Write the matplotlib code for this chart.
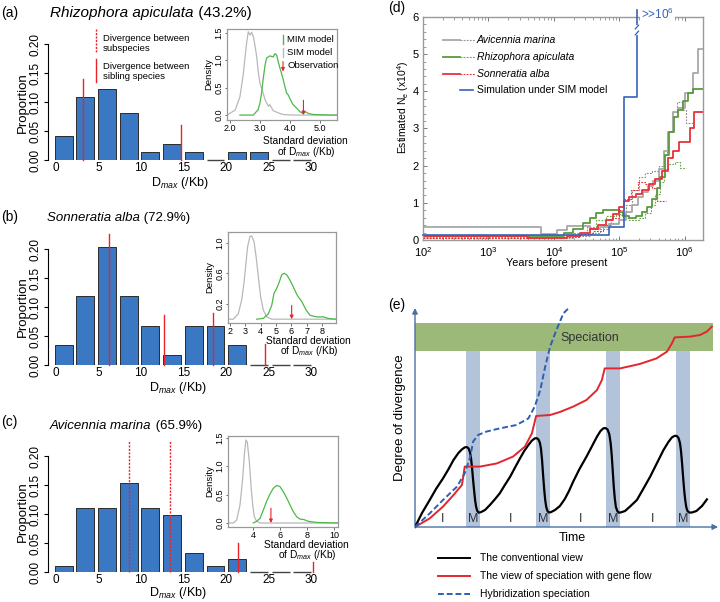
import matplotlib.pyplot as plt
import numpy as np
from matplotlib.patches import Rectangle, FancyArrowPatch
from matplotlib.lines import Line2D
from matplotlib.text import Annotation
from matplotlib.ticker import MultipleLocator

plt.rcParams['font.family'] = ['Liberation Sans', 'DejaVu Sans']
plt.rcParams['mathtext.fontset'] = 'custom'
plt.rcParams['mathtext.rm'] = 'Liberation Sans'
plt.rcParams['mathtext.it'] = 'Liberation Sans:italic'
plt.rcParams['mathtext.bf'] = 'Liberation Sans:bold'

# ---------------------------------------------------------------------------
# Data
# ---------------------------------------------------------------------------
n_bins = 12
prop_a = [0.041, 0.109, 0.122, 0.081, 0.0135, 0.027, 0.0135, 0.0, 0.0135, 0.0135, 0.0, 0.0]
prop_b = [0.034, 0.119, 0.203, 0.119, 0.068, 0.017, 0.068, 0.068, 0.034, 0.0, 0.0, 0.0]
prop_c = [0.011, 0.110, 0.110, 0.154, 0.110, 0.099, 0.033, 0.011, 0.022, 0.0, 0.0, 0.0]

# observed divergences (x, top, dotted?)
obs_a = [(3.15, 0.14, False), (14.7, 0.06, False)]
obs_b = [(6.2, 0.226, False), (12.65, 0.086, False), (18.5, 0.09, False), (24.55, 0.036, False)]
obs_c = [(8.55, 0.228, True), (13.4, 0.228, True), (21.4, 0.05, False), (30.2, 0.017, False)]

# inset densities
sim_a_x = [1.9, 2.17, 2.33, 2.44, 2.5, 2.56, 2.61, 2.67, 2.72, 2.78, 2.83, 2.89, 2.94, 3.0, 3.09,
           3.17, 3.28, 3.33, 3.44, 3.61, 3.78, 4.1, 5.57]
sim_a_y = [0.0, 0.09, 0.33, 0.73, 1.04, 1.34, 1.52, 1.46, 1.51, 1.43, 1.28, 1.07, 0.8, 0.58, 0.43,
           0.28, 0.16, 0.19, 0.08, 0.04, 0.01, 0.0, 0.0]
mim_a_x = [2.33, 2.78, 2.94, 3.0, 3.06, 3.11, 3.17, 3.22, 3.33, 3.44, 3.5, 3.56, 3.61, 3.67, 3.72,
           3.78, 3.83, 3.89, 3.94, 4.0, 4.09, 4.2, 4.33, 4.44, 4.53, 4.61, 4.78, 5.33, 5.57]
mim_a_y = [0.0, 0.0, 0.1, 0.22, 0.43, 0.67, 0.91, 1.04, 1.08, 1.06, 1.12, 1.09, 0.97, 0.85, 0.76,
           0.64, 0.52, 0.40, 0.37, 0.30, 0.20, 0.14, 0.06, 0.03, 0.06, 0.03, 0.01, 0.0, 0.0]
sim_b_x = [1.87, 2.22, 2.54, 2.76, 2.91, 3.04, 3.15, 3.3, 3.41, 3.57, 3.7, 3.85, 4.0, 4.17, 4.39, 4.72, 8.9]
sim_b_y = [0.0, 0.0, 0.07, 0.25, 0.47, 0.73, 0.95, 1.08, 1.09, 1.01, 0.82, 0.55, 0.29, 0.12, 0.03, 0.0, 0.0]
mim_b_x = [3.74, 4.17, 4.5, 4.72, 4.87, 5.04, 5.22, 5.37, 5.52, 5.7, 5.91, 6.13, 6.39, 6.68, 6.96,
           7.22, 7.65, 8.09, 8.4, 8.9]
mim_b_y = [0.0, 0.01, 0.07, 0.18, 0.34, 0.40, 0.49, 0.58, 0.60, 0.58, 0.51, 0.42, 0.31, 0.23, 0.12,
           0.05, 0.03, 0.03, 0.01, 0.0]
sim_c_x = [2.15, 2.54, 2.79, 3.04, 3.24, 3.36, 3.48, 3.58, 3.73, 3.85, 3.98, 4.1, 4.27, 4.52, 10.3]
sim_c_y = [0.0, 0.0, 0.05, 0.32, 0.79, 1.2, 1.46, 1.42, 1.08, 0.67, 0.32, 0.11, 0.03, 0.0, 0.0]
mim_c_x = [4.02, 4.27, 4.52, 4.77, 5.01, 5.26, 5.5, 5.76, 6.0, 6.25, 6.5, 6.74, 6.99, 7.24, 7.48,
           7.78, 8.1, 8.72, 10.3]
mim_c_y = [0.0, 0.03, 0.08, 0.23, 0.38, 0.51, 0.61, 0.66, 0.64, 0.55, 0.44, 0.32, 0.20, 0.11, 0.07,
           0.06, 0.03, 0.01, 0.0]
obs_sd = {'a': (4.45, 0.27), 'b': (6.02, 0.18), 'c': (5.33, 0.26)}

# (d) PSMC-like Ne histories: log10(years) breakpoints and Ne (x10^4)
am_lx = [2.0, 3.81, 4.05, 4.2, 4.55, 4.7, 4.85, 5.0, 5.1, 5.2, 5.28, 5.36, 5.44, 5.52, 5.6, 5.68,
         5.75, 5.82, 5.9, 6.0, 6.13, 6.2]
am_ne = [0.36, 0.15, 0.28, 0.38, 0.30, 0.36, 0.42, 0.55, 0.75, 0.95, 1.15, 1.3, 1.45, 1.6, 1.9, 2.4,
         2.9, 3.45, 3.55, 3.95, 4.5, 5.15]
am2_lx = [2.0, 4.0, 4.3, 4.55, 4.7, 4.85, 5.0, 5.1, 5.2, 5.3, 5.4, 5.5, 5.6, 5.68, 5.73, 5.8, 5.88,
          5.96, 6.02]
am2_ne = [0.08, 0.05, 0.1, 0.2, 0.3, 0.45, 0.7, 0.95, 1.35, 1.7, 1.8, 1.85, 2.0, 2.3, 2.9, 3.45, 3.7,
          3.5, 3.15]
ra_lx = [2.0, 3.85, 4.15, 4.3, 4.45, 4.55, 4.65, 4.75, 5.0, 5.05, 5.15, 5.25, 5.35, 5.42, 5.5, 5.57,
         5.63, 5.7, 5.76, 5.83, 5.9, 5.97, 6.05, 6.12]
ra_ne = [0.1, 0.12, 0.18, 0.3, 0.45, 0.6, 0.72, 0.8, 0.75, 0.65, 0.6, 0.65, 0.75, 0.9, 1.1, 1.4,
         1.7, 2.3, 2.9, 3.3, 3.5, 3.75, 3.95, 4.05]
ra2_lx = [2.0, 4.0, 4.3, 4.5, 4.65, 4.8, 4.95, 5.05, 5.15, 5.3, 5.4, 5.48, 5.55, 5.62, 5.68, 5.75,
          5.85, 5.93]
ra2_ne = [0.05, 0.08, 0.2, 0.35, 0.55, 0.65, 0.68, 0.6, 0.55, 0.6, 0.72, 0.95, 1.25, 1.55, 1.9,
          2.05, 2.1, 1.95]
sa_lx = [2.0, 3.6, 4.2, 4.4, 4.55, 4.68, 4.8, 4.9, 5.0, 5.08, 5.15, 5.25, 5.35, 5.45, 5.55, 5.65,
         5.75, 5.82, 5.92, 6.08, 6.15]
sa_ne = [0.12, 0.05, 0.1, 0.2, 0.3, 0.4, 0.55, 0.7, 0.9, 1.05, 1.15, 1.25, 1.35, 1.5, 1.65, 1.85,
         2.2, 2.4, 2.65, 3.0, 3.45]
sa2_lx = [2.0, 4.0, 4.4, 4.6, 4.75, 4.88, 5.0, 5.08, 5.18, 5.28, 5.4, 5.5, 5.58]
sa2_ne = [0.05, 0.08, 0.15, 0.25, 0.4, 0.6, 0.8, 1.1, 1.35, 1.55, 1.5, 1.4, 1.05]
sim_lx = [2.0, 4.85, 5.08, 5.27]
sim_ne = [0.13, 0.35, 3.85, 6.18]

# (e) schematic curves (time in I+M cycles, divergence in arbitrary units)
conv_t = [0, 0.1, 0.21, 0.3, 0.4, 0.48, 0.55, 0.62, 0.67, 0.71, 0.74, 0.765, 0.785, 0.8, 0.815,
          0.83, 0.845, 0.86, 0.875, 0.89, 0.91, 0.94,
          1.0, 1.07, 1.14, 1.21, 1.28, 1.36, 1.43, 1.5, 1.56, 1.62, 1.67, 1.71, 1.74, 1.765, 1.785,
          1.8, 1.815, 1.83, 1.845, 1.86, 1.875, 1.89, 1.91, 1.94,
          2.0, 2.07, 2.14, 2.2, 2.26, 2.35, 2.45, 2.53, 2.6, 2.65, 2.69, 2.72, 2.75, 2.775, 2.795,
          2.81, 2.825, 2.84, 2.855, 2.87, 2.89, 2.91, 2.94,
          3.0, 3.08, 3.17, 3.26, 3.36, 3.45, 3.55, 3.62, 3.67, 3.71, 3.74, 3.765, 3.785, 3.8, 3.815,
          3.83, 3.845, 3.86, 3.875, 3.89, 3.91, 3.93, 3.96, 4.02, 4.1, 4.17]
conv_d = [0, 0.7, 1.35, 1.9, 2.43, 2.9, 3.35, 3.7, 3.88, 3.98, 4.0, 3.93, 3.75, 3.45, 2.95,
          2.35, 1.8, 1.3, 0.98, 0.8, 0.72, 0.74,
          0.85, 1.1, 1.38, 1.68, 2.08, 2.52, 2.98, 3.43, 3.8, 4.1, 4.32, 4.43, 4.44, 4.37, 4.2,
          3.9, 3.35, 2.6, 1.9, 1.35, 1.0, 0.82, 0.73, 0.74,
          0.85, 1.05, 1.4, 1.8, 2.27, 2.9, 3.52, 4.05, 4.52, 4.8, 4.93, 4.95, 4.88, 4.65, 4.2,
          3.6, 2.8, 2.0, 1.4, 1.0, 0.8, 0.72, 0.73,
          0.8, 1.05, 1.35, 1.9, 2.52, 3.15, 3.85, 4.25, 4.48, 4.56, 4.55, 4.45, 4.2, 3.8, 3.2,
          2.5, 1.85, 1.35, 1.0, 0.82, 0.74, 0.72, 0.73, 0.8, 1.05, 1.38]
flow_t = [0, 0.21, 0.4, 0.55, 0.67, 0.69, 0.71, 0.93, 1.17, 1.4, 1.57, 1.67, 1.73, 1.93, 2.07, 2.26,
          2.45, 2.6, 2.67, 2.71, 2.93, 3.21, 3.45, 3.6, 3.67, 3.71, 3.93, 4.07, 4.17, 4.24]
flow_d = [0, 0.43, 1.02, 1.6, 2.1, 2.52, 3.02, 3.02, 3.18, 3.52, 4.02, 4.68, 5.55, 5.6, 5.75, 6.02,
          6.35, 6.85, 7.35, 7.93, 7.93, 8.15, 8.43, 8.77, 9.18, 9.48, 9.52, 9.6, 9.77, 10.02]
hyb_t = [0, 0.21, 0.4, 0.6, 0.71, 0.79, 0.83, 0.9, 1.02, 1.21, 1.45, 1.62, 1.71, 1.79, 1.86, 1.93,
         2.02, 2.12, 2.21]
hyb_d = [0, 0.68, 1.35, 2.02, 2.68, 3.52, 4.27, 4.6, 4.77, 4.93, 5.1, 5.43, 6.02, 6.85, 8.02, 9.02,
         9.85, 10.68, 11.0]

W, H = 720, 602
fig = plt.figure(figsize=(W / 100, H / 100), dpi=100)


def px_axes(left, top, right, bottom):
    return fig.add_axes([left / W, 1 - bottom / H, (right - left) / W, (bottom - top) / H])


def fx(px):
    return px / W


def fy(py):
    return 1 - py / H


def ftext(px, py, s, **kw):
    return fig.text(fx(px), fy(py), s, **kw)


def fline(xs, ys, **kw):
    fig.add_artist(Line2D([fx(v) for v in xs], [fy(v) for v in ys], **kw))


BAR = '#3a78c4'
RED = '#e8232a'
GREEN = '#4db848'
GREY = '#b8b8b8'
DMAX = r'D$_{\mathit{max}}$ (/Kb)'

centers = 0.9 + 2.55 * np.arange(n_bins)
BAR_W = 2.1


def hist_panel(top, bottom, props, obs):
    ax = px_axes(48, top, 318, bottom)
    ax.bar(centers, props, width=BAR_W, color=BAR, edgecolor='#2b2b2b', linewidth=0.7)
    # empty bins are drawn as a flat dark line on the baseline
    for c, p in zip(centers, props):
        if p == 0:
            ax.plot([c - BAR_W / 2, c + BAR_W / 2], [0, 0], color='#444444', lw=1.0,
                    clip_on=False, solid_capstyle='butt')
    for x, ytop, dotted in obs:
        ax.plot([x, x], [0, ytop], color=RED, lw=1.0, ls=(0, (1.5, 1)) if dotted else '-',
                clip_on=False, zorder=3)
    ax.set_xlim(-0.94, 30.8)
    ax.set_ylim(0, (bottom - top) / 580)
    for s in ['top', 'right', 'bottom']:
        ax.spines[s].set_visible(False)
    ax.spines['left'].set_bounds(0, 0.2)
    ax.spines['left'].set_linewidth(0.8)
    ax.set_yticks([0, 0.05, 0.10, 0.15, 0.20])
    ax.set_yticklabels(['0.00', '0.05', '0.10', '0.15', '0.20'], rotation=90, va='center')
    ax.set_xticks([0, 5, 10, 15, 20, 25, 30])
    ax.tick_params(axis='y', length=3, width=0.8, labelsize=8.5, pad=1.5)
    ax.tick_params(axis='x', length=0, labelsize=8.5, pad=1.5)
    ax.patch.set_alpha(0)
    return ax


def inset_panel(left, top, right, bottom, xlim, ylim, xticks, xlabels, yticks, ylabels,
                sx, sy, mx, my, obs):
    ax = px_axes(left, top, right, bottom)
    ax.plot(sx, sy, color=GREY, lw=0.9)
    ax.plot(mx, my, color=GREEN, lw=0.9)
    ax.annotate('', xy=(obs[0], 0.0), xytext=(obs[0], obs[1]),
                arrowprops=dict(arrowstyle='-|>', color=RED, lw=0.8, mutation_scale=5,
                                shrinkA=0, shrinkB=0))
    ax.set_xlim(*xlim)
    ax.set_ylim(*ylim)
    ax.set_xticks(xticks)
    ax.set_xticklabels(xlabels)
    ax.set_yticks(yticks)
    ax.set_yticklabels(ylabels, rotation=90, va='center')
    ax.tick_params(labelsize=6.5, length=1.8, width=0.6, pad=0.8, color='#555555')
    for s in ax.spines.values():
        s.set_color('#999999')
        s.set_linewidth(0.9)
    ax.set_ylabel('Density', fontsize=6.8, labelpad=1)
    return ax


def inset_xlabel(cx, py):
    ftext(cx, py, 'Standard deviation', fontsize=7.3, ha='center', va='center')
    ftext(cx + 1, py + 10.5, 'of ' + DMAX, fontsize=7.3, ha='center', va='center')


# ---------------------------------------------------------------------------
# (a)
# ---------------------------------------------------------------------------
ax_a = hist_panel(30, 160, prop_a, obs_a)
ftext(1, 13, '(a)', fontsize=10, va='center')
ftext(23, 103, 'Proportion', fontsize=9.5, rotation=90, ha='center', va='center')
ftext(180, 183, DMAX, fontsize=9, ha='center', va='center')
fline([96, 96], [29, 53], color=RED, lw=1.0, ls=(0, (1.5, 1)))
fline([96, 96], [59, 82], color=RED, lw=1.0)
ftext(103, 43.5, 'Divergence between\nsubspecies', fontsize=6.8, va='center', linespacing=1.15)
ftext(103, 71.5, 'Divergence between\nsibling species', fontsize=6.8, va='center', linespacing=1.15)

ax_ai = inset_panel(227, 29, 337, 120, (1.9, 5.57), (-0.09, 1.57),
                    [2, 3, 4, 5], ['2.0', '3.0', '4.0', '5.0'],
                    [0, 0.5, 1.0, 1.5], ['0.0', '0.5', '1.0', '1.5'],
                    sim_a_x, sim_a_y, mim_a_x, mim_a_y, obs_sd['a'])
fline([283, 283], [35, 43.5], color=GREEN, lw=1.0)
fline([283, 283], [48, 56.5], color=GREY, lw=1.0)
fig.add_artist(FancyArrowPatch(
    (fx(283), fy(61.5)), (fx(283), fy(71.5)), transform=fig.transFigure,
    arrowstyle='-|>', color=RED, lw=0.8, mutation_scale=5, shrinkA=0, shrinkB=0))
ftext(287, 39, 'MIM model', fontsize=6.8, va='center')
ftext(287, 52.5, 'SIM model', fontsize=6.8, va='center')
ftext(287, 66, 'Observation', fontsize=6.8, va='center')
inset_xlabel(305, 141)

# ---------------------------------------------------------------------------
# (b)
# ---------------------------------------------------------------------------
ax_b = hist_panel(235, 365, prop_b, obs_b)
ftext(1, 217, '(b)', fontsize=10, va='center')
ftext(23, 307, 'Proportion', fontsize=9.5, rotation=90, ha='center', va='center')
ftext(178, 388, DMAX, fontsize=9, ha='center', va='center')
ax_bi = inset_panel(228, 232, 336, 323, (1.87, 8.91), (-0.05, 1.14),
                    [2, 3, 4, 5, 6, 7, 8], ['2', '3', '4', '5', '6', '7', '8'],
                    [0.2, 0.6, 1.0], ['0.2', '0.6', '1.0'],
                    sim_b_x, sim_b_y, mim_b_x, mim_b_y, obs_sd['b'])
inset_xlabel(308, 341)

# ---------------------------------------------------------------------------
# (c)
# ---------------------------------------------------------------------------
ax_c = hist_panel(442, 572, prop_c, obs_c)
ftext(1, 422, '(c)', fontsize=10, va='center')
ftext(23, 512, 'Proportion', fontsize=9.5, rotation=90, ha='center', va='center')
ftext(178, 593, DMAX, fontsize=9, ha='center', va='center')
ax_ci = inset_panel(228, 436, 338, 527, (2.15, 10.3), (-0.07, 1.53),
                    [4, 6, 8, 10], ['4', '6', '8', '10'],
                    [0, 0.5, 1.0, 1.5], ['0.0', '0.5', '1.0', '1.5'],
                    sim_c_x, sim_c_y, mim_c_x, mim_c_y, obs_sd['c'])
inset_xlabel(306, 545)

# species titles (italic name + upright percentage)
for px, py, name, pct, size in [(50, 13, 'Rhizophora apiculata', '(43.2%)', 11),
                                (47, 218, 'Sonneratia alba', '(72.9%)', 9.5),
                                (50, 426, 'Avicennia marina', '(65.9%)', 9.5)]:
    t = ftext(px, py, name, fontsize=size, style='italic', va='center')
    fig.add_artist(Annotation(' ' + pct, xy=(1, 0.5), xycoords=t,
                              va='center', ha='left', fontsize=size))

# ---------------------------------------------------------------------------
# (d)
# ---------------------------------------------------------------------------
ax_d = px_axes(423, 17, 703, 240)
ftext(388, 8, '(d)', fontsize=10, va='center')


def steps(ax, lx, ne, end, **kw):
    x = 10.0 ** np.array(list(lx) + [end])
    y = list(ne) + [ne[-1]]
    ax.step(x, y, where='post', **kw)


C_AM, C_RA, C_SA, C_SIM = '#a8a8a8', '#5b9a3c', '#e8313a', '#3563b8'
DASH = (0, (1.6, 1.2))
steps(ax_d, am2_lx, am2_ne, 6.12, color='#8f8f8f', lw=0.8, ls=DASH)
steps(ax_d, ra2_lx, ra2_ne, 6.02, color='#6aa84f', lw=0.8, ls=DASH)
steps(ax_d, sa2_lx, sa2_ne, 5.72, color=C_SA, lw=0.8, ls=DASH)
steps(ax_d, am_lx, am_ne, 6.28, color=C_AM, lw=1.3)
steps(ax_d, ra_lx, ra_ne, 6.28, color=C_RA, lw=1.3)
steps(ax_d, sa_lx, sa_ne, 6.28, color=C_SA, lw=1.3)
steps(ax_d, sim_lx, sim_ne, 5.27, color=C_SIM, lw=1.2, clip_on=False, zorder=4)

# axis break on the simulated curve
xb = 10 ** 5.27
ax_d.plot([xb, xb], [5.56, 5.74], color='white', lw=3, zorder=5, clip_on=False)
for yb in [5.52, 5.68]:
    ax_d.plot([10 ** 5.245, 10 ** 5.295], [yb, yb + 0.1], color=C_SIM, lw=0.9, zorder=6)

ax_d.set_xscale('log')
ax_d.set_xlim(100, 10 ** 6.28)
ax_d.set_ylim(0, 6)
ax_d.set_yticks(range(7))
ax_d.yaxis.set_minor_locator(MultipleLocator(0.2))
ax_d.tick_params(which='both', direction='in', top=True, right=False, labelsize=8,
                 color='#777777')
ax_d.tick_params(axis='x', pad=3.5)
ax_d.tick_params(axis='y', pad=3)
ax_d.tick_params(which='major', length=3, width=0.7)
ax_d.tick_params(which='minor', length=1.8, width=0.5)
for s in ax_d.spines.values():
    s.set_color('#9a9a9a')
    s.set_linewidth(1.0)
ax_d.text(10 ** 5.33, 6.08, r'>>10$^6$', color=C_SIM, fontsize=8.5, va='center', ha='left',
          bbox=dict(facecolor='white', edgecolor='none', pad=0.5), zorder=7, clip_on=False)
ftext(403, 107, r'Estimated N$_\mathrm{e}$ (x10$^4$)', fontsize=7.5, rotation=90,
      ha='center', va='center')
ftext(557, 263, 'Years before present', fontsize=7.8, ha='center', va='center')

# manual legend (solid + dotted segment per species)
leg_items = [('Avicennia marina', C_AM, '#8f8f8f', True),
             ('Rhizophora apiculata', C_RA, '#6aa84f', True),
             ('Sonneratia alba', C_SA, C_SA, True),
             ('Simulation under SIM model', C_SIM, C_SIM, False)]
for i, (lab, c1, c2, italic) in enumerate(leg_items):
    py = 40 + 16.8 * i
    if italic:
        fline([443, 460], [py, py], color=c1, lw=1.3)
        fline([460, 475], [py, py], color=c2, lw=0.8, ls=DASH)
    else:
        fline([460, 473], [py, py], color=c1, lw=1.2)
    ftext(477, py, lab, fontsize=7.5, va='center', style='italic' if italic else 'normal')

# ---------------------------------------------------------------------------
# (e)
# ---------------------------------------------------------------------------
ax_e = px_axes(415, 300, 720, 530)
ax_e.set_xlim(0, 305 / 70)
ax_e.set_ylim(-0.15, 11.35)
ax_e.axis('off')
ftext(388, 305, '(e)', fontsize=10, va='center')

ax_e.add_patch(Rectangle((0, 8.8), 4.26, 1.4, color='#9cb97a', lw=0, zorder=1))
for m0 in [0.73, 1.73, 2.73, 3.73]:
    ax_e.add_patch(Rectangle((m0, 0), 0.2, 8.8, color='#b3c3da', lw=0, zorder=1))
ax_e.text(2.5, 9.45, 'Speciation', fontsize=9, ha='center', va='center', color='#333333', zorder=2)

AX_BLUE = '#4a6fa5'
ax_e.annotate('', xy=(4.33, 0), xytext=(0, 0),
              arrowprops=dict(arrowstyle='-|>', color=AX_BLUE, lw=1.0, mutation_scale=8,
                              shrinkA=0, shrinkB=0), annotation_clip=False)
ax_e.annotate('', xy=(0, 10.95), xytext=(0, 0),
              arrowprops=dict(arrowstyle='-|>', color=AX_BLUE, lw=1.0, mutation_scale=8,
                              shrinkA=0, shrinkB=0), annotation_clip=False)

ax_e.plot(conv_t, conv_d, color='black', lw=1.6, zorder=3, solid_joinstyle='round')
ax_e.plot(flow_t, flow_d, color='#e3262d', lw=1.4, zorder=4)
ax_e.plot(hyb_t, hyb_d, color='#2f5fb3', lw=1.4, ls=(0, (3, 1.5)), zorder=5)

for t in [0.4, 1.36, 2.36, 3.4]:
    ax_e.text(t, 0.4, 'I', fontsize=9, ha='center', va='center', color='#333333', zorder=6)
for t in [0.83, 1.83, 2.83, 3.83]:
    ax_e.text(t, 0.4, 'M', fontsize=9, ha='center', va='center', color='#333333', zorder=6)

ftext(572, 538, 'Time', fontsize=9, ha='center', va='center')
ftext(400, 418, 'Degree of divergence', fontsize=9.5, rotation=90, ha='center', va='center')

leg_e = [('The conventional view', 'black', '-'),
         ('The view of speciation with gene flow', '#e3262d', '-'),
         ('Hybridization speciation', '#2f5fb3', (0, (3, 1.5)))]
for i, (lab, c, ls) in enumerate(leg_e):
    py = 558 + 18 * i
    fline([438, 470], [py, py], color=c, lw=1.4, ls=ls)
    ftext(480, py, lab, fontsize=7.5, va='center')

fig.savefig('out.png', dpi=100, facecolor='white')
